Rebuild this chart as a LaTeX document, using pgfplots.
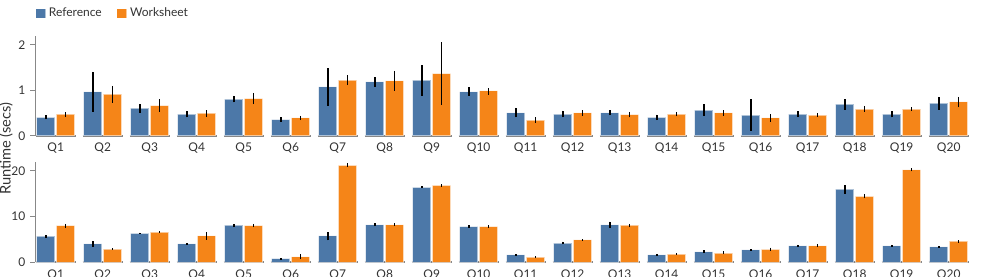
\documentclass[border=0pt]{standalone}
\usepackage{pgfplots}
\pgfplotsset{compat=1.18}
\usepackage{pgfplotstable}
\usepackage{fontspec}
\setmainfont{Lato}
\definecolor{vblue}{HTML}{4C78A8}
\definecolor{vorange}{HTML}{F58518}
\definecolor{axgray}{HTML}{888888}
\definecolor{txt}{HTML}{333333}

% x  Ref  Ref+ Ref-  Wks  Wks+ Wks-
\pgfplotstableread{
x  r    rp   rm   w    wp   wm
0  0.41 0.05 0.04 0.48 0.04 0.06
1  0.97 0.44 0.44 0.92 0.18 0.19
2  0.61 0.09 0.10 0.67 0.14 0.14
3  0.48 0.07 0.07 0.50 0.07 0.08
4  0.81 0.07 0.07 0.82 0.13 0.12
5  0.36 0.05 0.05 0.40 0.04 0.05
6  1.08 0.41 0.41 1.23 0.11 0.11
7  1.19 0.10 0.11 1.21 0.22 0.22
8  1.23 0.33 0.34 1.37 0.69 0.69
9  0.97 0.10 0.09 0.99 0.06 0.08
10 0.51 0.11 0.10 0.35 0.06 0.06
11 0.48 0.08 0.07 0.51 0.06 0.06
12 0.51 0.06 0.05 0.47 0.06 0.06
13 0.41 0.06 0.06 0.48 0.04 0.05
14 0.57 0.13 0.12 0.51 0.06 0.06
15 0.46 0.35 0.35 0.40 0.08 0.09
16 0.48 0.06 0.06 0.46 0.04 0.04
17 0.70 0.11 0.12 0.59 0.07 0.06
18 0.48 0.06 0.07 0.59 0.04 0.04
19 0.72 0.14 0.14 0.75 0.11 0.12
}\toptable

\pgfplotstableread{
x  r    rp   rm   w    wp   wm
0  5.7  0.3  0.4  8.0  0.4  0.5
1  4.0  0.7  0.7  2.9  0.2  0.2
2  6.3  0.2  0.1  6.6  0.2  0.2
3  4.0  0.2  0.2  5.8  0.8  0.9
4  8.1  0.2  0.3  8.0  0.4  0.3
5  0.8  0.1  0.15 1.2  0.55 0.5
6  5.8  0.8  1.0  21.2 0.5  0.3
7  8.2  0.3  0.3  8.2  0.3  0.3
8  16.4 0.2  0.2  16.8 0.3  0.3
9  7.8  0.3  0.3  7.8  0.3  0.3
10 1.6  0.2  0.2  1.1  0.2  0.2
11 4.2  0.3  0.3  4.9  0.1  0.2
12 8.2  0.7  0.6  8.1  0.3  0.4
13 1.6  0.2  0.2  1.8  0.2  0.2
14 2.3  0.3  0.2  2.0  0.4  0.3
15 2.7  0.2  0.2  2.8  0.4  0.3
16 3.6  0.2  0.2  3.6  0.3  0.2
17 16.0 0.8  1.0  14.4 0.5  0.4
18 3.6  0.2  0.2  20.2 0.4  0.3
19 3.35 0.15 0.15 4.6  0.2  0.3
}\bottable

\pgfplotsset{
  panel/.style={
    scale only axis, x=35.25pt,
    xmin=-0.44, xmax=19.5, ymin=0,
    axis y line*=left, axis x line*=bottom,
    x axis line style={draw=none},
    y axis line style={axgray, line width=0.75pt},
    xtick={0,...,19},
    xticklabels={Q1,Q2,Q3,Q4,Q5,Q6,Q7,Q8,Q9,Q10,Q11,Q12,Q13,Q14,Q15,Q16,Q17,Q18,Q19,Q20},
    major x tick style={draw=none},
    major y tick style={axgray, line width=0.75pt},
    tick align=outside, major tick length=3.75pt,
    xticklabel style={font=\fontsize{9}{10}\selectfont, text=txt, yshift=2pt},
    yticklabel style={font=\fontsize{9}{10}\selectfont, text=txt},
    /pgf/number format/assume math mode=true,
    clip=false,
  },
  rbar/.style={ybar, bar width=0.39, bar shift=0, fill=vblue,
    draw=white, draw opacity=0.55, line width=0.75pt,
    error bars/.cd, y dir=both, y explicit,
    error bar style={black, line width=1.1pt, opacity=1}, error mark=none},
  wbar/.style={ybar, bar width=0.39, bar shift=0, fill=vorange,
    draw=white, draw opacity=0.55, line width=0.75pt,
    error bars/.cd, y dir=both, y explicit,
    error bar style={black, line width=1.1pt, opacity=1}, error mark=none},
}

\begin{document}
\begin{tikzpicture}
\useasboundingbox (0pt,0pt) rectangle (735.75pt,-207.75pt);
% top panel
\begin{axis}[panel, y=34.125pt, ymax=2.2, ytick={0,1,2},
  at={(26.25pt,-102pt)}, anchor=south west,
  legend columns=2,
  legend style={draw=none, fill=none, at={(axis description cs:0,1)}, anchor=south west,
    xshift=-3pt, yshift=8.5pt, font=\fontsize{9}{10}\selectfont, text=txt,
    /tikz/every even column/.append style={column sep=9pt}},
  legend image code/.code={\fill[#1] (0pt,-3.6pt) rectangle (7.5pt,3.6pt);},
]
\pgfplotsinvokeforeach{0,...,19}{
  \draw[axgray, line width=1.5pt] (axis cs:#1-0.425,0) -- (axis cs:#1+0.425,0);
}
\addplot[rbar] table[x expr=\thisrow{x}-0.21, y=r, y error plus=rp, y error minus=rm] {\toptable};
\addlegendentry{Reference}
\addplot[wbar] table[x expr=\thisrow{x}+0.21, y=w, y error plus=wp, y error minus=wm] {\toptable};
\addlegendentry{Worksheet}
\end{axis}
% bottom panel
\begin{axis}[panel, y=3.4275pt, ymax=22, ytick={0,10,20},
  at={(26.25pt,-196.7pt)}, anchor=south west]
\pgfplotsinvokeforeach{0,...,19}{
  \draw[axgray, line width=1.5pt] (axis cs:#1-0.425,0) -- (axis cs:#1+0.425,0);
}
\addplot[rbar] table[x expr=\thisrow{x}-0.21, y=r, y error plus=rp, y error minus=rm] {\bottable};
\addplot[wbar] table[x expr=\thisrow{x}+0.21, y=w, y error plus=wp, y error minus=wm] {\bottable};
\end{axis}
\node[rotate=90, font=\fontsize{11}{12}\selectfont, text=txt] at (4.5pt,-111.5pt) {Runtime (secs)};
\end{tikzpicture}
\end{document}
